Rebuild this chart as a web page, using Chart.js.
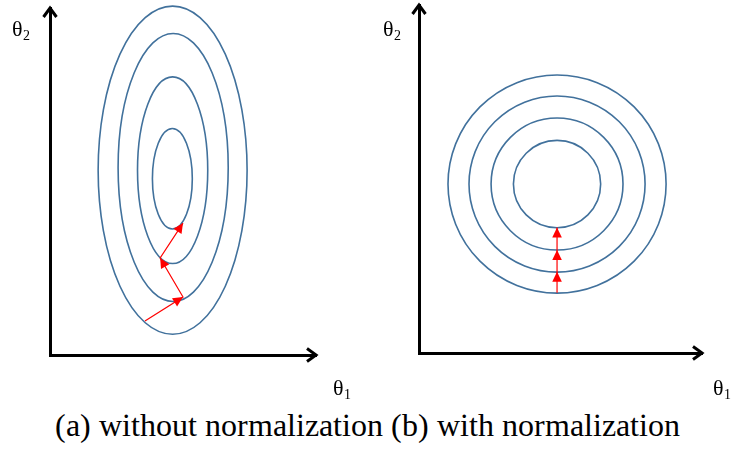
<!DOCTYPE html>
<html>
<head>
<meta charset="utf-8">
<style>
@font-face{font-family:'RefSerif';src:local('Liberation Serif'),local('LiberationSerif'),local('Liberation Serif Regular'),local('LiberationSerif-Regular');}
html,body{margin:0;padding:0;background:#fff;}
#wrap{position:relative;width:734px;height:450px;overflow:hidden;background:#fff;color:#000;}
.pane{position:absolute;top:0;width:367px;height:400px;}
.lbl{position:absolute;font-size:22px;line-height:1;white-space:nowrap;font-family:'RefSerif','Liberation Serif',serif;}
.lbl .s{font-size:14px;position:relative;top:4px;}
#cap{position:absolute;left:0;top:410px;width:734px;text-align:center;font-size:31.5px;line-height:1;white-space:nowrap;font-family:'RefSerif','Liberation Serif',serif;}
</style>
<script src="https://cdn.jsdelivr.net/npm/chart.js@4.4.1/dist/chart.umd.min.js"></script>
</head>
<body>
<div id="wrap">
  <canvas id="left" class="pane" style="left:0" width="367" height="400"></canvas>
  <canvas id="right" class="pane" style="left:367px" width="367" height="400"></canvas>
  <div class="lbl" style="left:12px;top:17.5px">θ<span class="s">2</span></div>
  <div class="lbl" style="left:333px;top:376.5px">θ<span class="s">1</span></div>
  <div class="lbl" style="left:383px;top:17.5px">θ<span class="s">2</span></div>
  <div class="lbl" style="left:713px;top:376.5px">θ<span class="s">1</span></div>
  <div id="cap">(a) without normalization (b) with normalization</div>
</div>
<script>
// ---- data (axis units) ----
// (a) without normalization: elongated contour ellipses
const leftAxisMax = [10, 13.05];          // θ1 max, θ2 max
const leftCenterX = [4.61, 4.63, 4.61, 4.60];
const leftCenterY = [6.95, 7.05, 6.95, 6.63];
const leftRadiusX = [2.80, 2.07, 1.32, 0.75];
const leftRadiusY = [6.17, 5.04, 3.51, 1.89];
const leftPathX = [3.57, 5.00, 4.14, 5.00];
const leftPathY = [1.28, 2.18, 3.65, 4.96];

// (b) with normalization: circular contours
const rightAxisMax = [10.64, 13.08];
const rightCenterX = [5.19, 5.19, 5.19, 5.19];
const rightCenterY = [6.35, 6.35, 6.35, 6.35];
const rightRadius = [4.10, 3.31, 2.48, 1.64];
const rightPathX = [5.19, 5.19, 5.19, 5.19];
const rightPathY = [2.26, 3.05, 3.87, 4.72];

const contourColor = '#41719c';
const pathColor = '#ff0000';

const diagramPlugin = {
  id: 'diagram',
  beforeDatasetsDraw(chart, args, o) {
    const {ctx, scales: {x, y}} = chart;
    ctx.save();
    ctx.strokeStyle = o.color;
    ctx.lineWidth = o.width;
    for (let i = 0; i < o.cx.length; i++) {
      const px = x.getPixelForValue(o.cx[i]);
      const py = y.getPixelForValue(o.cy[i]);
      const rx = Math.abs(x.getPixelForValue(o.cx[i] + o.rx[i]) - px);
      const ry = Math.abs(y.getPixelForValue(o.cy[i] + o.ry[i]) - py);
      ctx.beginPath();
      ctx.ellipse(px, py, rx, ry, 0, 0, Math.PI * 2);
      ctx.stroke();
    }
    ctx.restore();
  },
  afterDatasetsDraw(chart) {
    const {ctx} = chart;
    const pts = chart.getDatasetMeta(0).data;
    ctx.save();
    ctx.fillStyle = pathColor;
    for (let i = 1; i < pts.length; i++) {
      const a = pts[i - 1], b = pts[i];
      const ang = Math.atan2(b.y - a.y, b.x - a.x);
      const L = 10, W = 4.8;
      ctx.beginPath();
      ctx.moveTo(b.x, b.y);
      ctx.lineTo(b.x - L * Math.cos(ang) + W * Math.sin(ang), b.y - L * Math.sin(ang) - W * Math.cos(ang));
      ctx.lineTo(b.x - L * Math.cos(ang) - W * Math.sin(ang), b.y - L * Math.sin(ang) + W * Math.cos(ang));
      ctx.closePath();
      ctx.fill();
    }
    ctx.restore();
  },
  afterDraw(chart) {
    const {ctx, chartArea: c} = chart;
    ctx.save();
    ctx.strokeStyle = '#000';
    ctx.lineWidth = 3;
    ctx.lineJoin = 'miter';
    ctx.lineCap = 'butt';
    ctx.beginPath();
    ctx.moveTo(c.right - 9, c.bottom - 6.5);
    ctx.lineTo(c.right, c.bottom);
    ctx.lineTo(c.right - 9, c.bottom + 6.5);
    ctx.stroke();
    ctx.beginPath();
    ctx.moveTo(c.left - 6.5, c.top + 9);
    ctx.lineTo(c.left, c.top);
    ctx.lineTo(c.left + 6.5, c.top + 9);
    ctx.stroke();
    ctx.restore();
  }
};

function makeChart(id, axisMax, pad, cx, cy, rx, ry, pathX, pathY) {
  const data = pathX.map((v, i) => ({x: v, y: pathY[i]}));
  return new Chart(document.getElementById(id), {
    type: 'scatter',
    data: {datasets: [{data, showLine: true, borderColor: pathColor, borderWidth: 1.2, pointRadius: 0, pointHoverRadius: 0}]},
    options: {
      responsive: false, animation: false, devicePixelRatio: 1,
      layout: {padding: pad},
      events: [],
      plugins: {
        legend: {display: false}, tooltip: {enabled: false},
        diagram: {cx, cy, rx, ry, color: contourColor, width: 1.6}
      },
      scales: {
        x: {type: 'linear', min: 0, max: axisMax[0], grid: {display: false}, ticks: {display: false},
            border: {display: true, color: '#000', width: 3}, afterFit(s) { s.height = 0; }},
        y: {type: 'linear', min: 0, max: axisMax[1], grid: {display: false}, ticks: {display: false},
            border: {display: true, color: '#000', width: 3}, afterFit(s) { s.width = 0; }}
      }
    },
    plugins: [diagramPlugin]
  });
}

makeChart('left', leftAxisMax, {left: 50, top: 8, right: 51, bottom: 45},
  leftCenterX, leftCenterY, leftRadiusX, leftRadiusY, leftPathX, leftPathY);
makeChart('right', rightAxisMax, {left: 52, top: 5, right: 32, bottom: 47},
  rightCenterX, rightCenterY, rightRadius, rightRadius, rightPathX, rightPathY);
</script>
</body>
</html>
